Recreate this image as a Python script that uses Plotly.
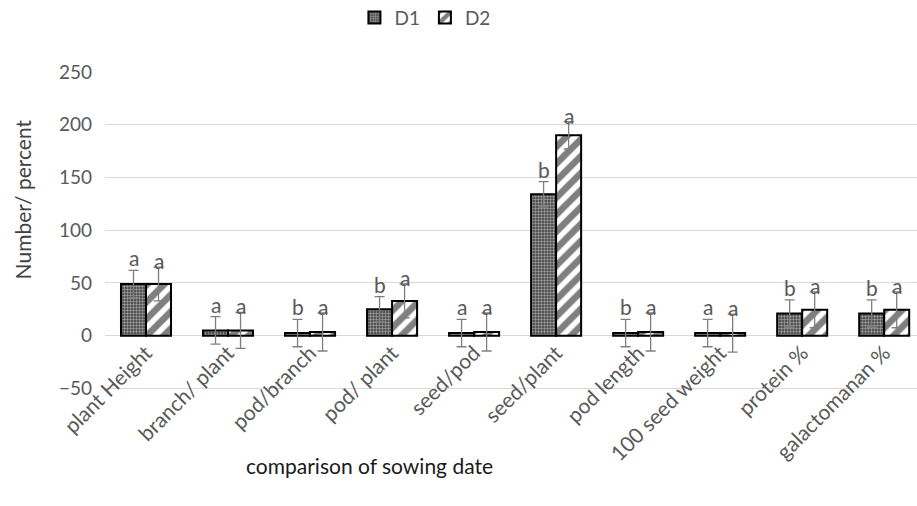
import plotly.graph_objects as go

categories = ["plant Height", "branch/ plant", "pod/branch", "pod/ plant", "seed/pod",
              "seed/plant", "pod length", "100 seed weight", "protein %", "galactomanan %"]
d1_values = [49, 5, 2.5, 25, 2.5, 134, 2.5, 2.5, 21, 21]
d2_values = [49, 5, 3.5, 33, 3.5, 190, 3.5, 2.5, 24.5, 24.5]
d1_errors = [13, 13, 13, 12, 13, 12, 13, 13, 13, 13]
d2_errors = [16, 17, 18, 16, 18, 13, 18, 18, 17, 17]
d1_letters = ["a", "a", "b", "b", "a", "b", "b", "a", "b", "b"]
d2_letters = ["a", "a", "a", "a", "a", "a", "a", "a", "a", "a"]
y_min, y_max = -50, 250
y_ticks = [-50, 0, 50, 100, 150, 200, 250]

FONT = "Lato, 'Open Sans', sans-serif"
GRAY = "#595959"
GRID = "#d9d9d9"
bargap = 0.39
y_lo = y_min - 1.5  # small pad so the -50 gridline is drawn inside the plot

fig = go.Figure()
fig.add_trace(go.Bar(
    name="D1", x=categories, y=d1_values,
    marker=dict(color="#606060", line=dict(color="black", width=2),
                pattern=dict(shape=".", bgcolor="#3c3c3c", fgcolor="#ffffff", size=3, solidity=0.5)),
    error_y=dict(type="data", array=d1_errors, color="#7f7f7f", thickness=1.3, width=5),
))
fig.add_trace(go.Bar(
    name="D2", x=categories, y=d2_values,
    marker=dict(color="white", line=dict(color="black", width=2),
                pattern=dict(shape="/", bgcolor="white", fgcolor="black", size=12, solidity=0.55)),
    error_y=dict(type="data", array=d2_errors, color="#7f7f7f", thickness=1.3, width=5),
))

off = (1 - bargap) / 4
annotations = []
for i in range(len(categories)):
    annotations.append(dict(x=i - off, y=d1_values[i] + d1_errors[i], xref="x", yref="y",
                            text=d1_letters[i], showarrow=False, yanchor="bottom", yshift=-2,
                            font=dict(family=FONT, size=21, color=GRAY)))
    annotations.append(dict(x=i + off, y=d2_values[i] + d2_errors[i], xref="x", yref="y",
                            text=d2_letters[i], showarrow=False, yanchor="bottom", yshift=-8,
                            font=dict(family=FONT, size=21, color=GRAY)))

annotations.append(dict(text="comparison of sowing date", xref="paper", yref="paper",
                        x=0.326, y=-0.238, showarrow=False, xanchor="center", yanchor="middle",
                        font=dict(family=FONT, size=21, color="#1a1a1a")))
annotations.append(dict(text="Number/ percent", xref="paper", yref="paper",
                        x=-0.102, y=0.60, showarrow=False, textangle=-90,
                        xanchor="center", yanchor="middle",
                        font=dict(family=FONT, size=21, color="#404040")))

fig.update_layout(
    width=917, height=506,
    margin=dict(l=105, r=0, t=72, b=116, autoexpand=False),
    paper_bgcolor="white", plot_bgcolor="white",
    barmode="group", bargap=bargap, bargroupgap=0,
    font=dict(family=FONT, color=GRAY),
    showlegend=True,
    legend=dict(orientation="h", x=0.394, xanchor="center", y=1.171, yanchor="middle",
                font=dict(family=FONT, size=19, color=GRAY), itemwidth=30),
    annotations=annotations,
    xaxis=dict(type="category", range=[-0.5, 9.4], anchor="free",
               position=(0 - y_lo) / (y_max - y_lo), automargin=False,
               tickangle=-45, tickfont=dict(family=FONT, size=21, color=GRAY),
               showgrid=False, showline=False, ticks="", zeroline=False),
    yaxis=dict(range=[y_lo, y_max], tickvals=y_ticks, showgrid=True, gridcolor=GRID,
               gridwidth=1, zeroline=True, zerolinecolor=GRID, zerolinewidth=1,
               automargin=False,
               tickfont=dict(family=FONT, size=19, color=GRAY), ticks="", ticklabelstandoff=12),
)

fig.write_html("out.html", config={"displayModeBar": False},
               post_script="document.body.style.margin='0';")
